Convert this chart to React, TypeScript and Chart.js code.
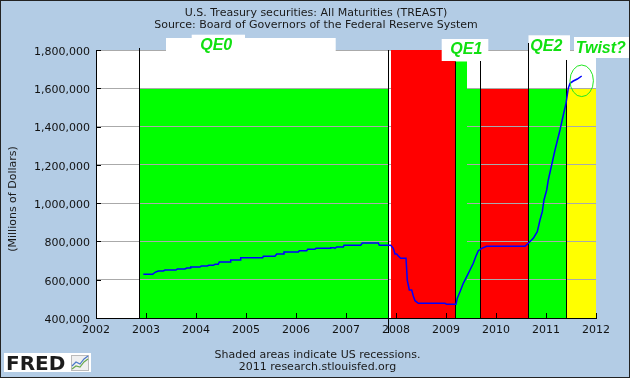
import React, { useEffect, useRef } from 'react';
import { Chart, registerables } from 'chart.js';

Chart.register(...registerables);

// ---- series: U.S. Treasury securities held, millions of dollars
const lineYears = [
  2002.946, 2003.134, 2003.18, 2003.246, 2003.346, 2003.38, 2003.6, 2003.626, 2003.78, 2003.814,
  2003.88, 2003.894, 2004.08, 2004.106, 2004.226, 2004.254, 2004.346, 2004.38, 2004.446, 2004.466,
  2004.68, 2004.694, 2004.88, 2004.894, 2005.334, 2005.346, 2005.58, 2005.614, 2005.746, 2005.76,
  2006.046, 2006.066, 2006.214, 2006.234, 2006.38, 2006.4, 2006.68, 2006.694, 2006.76, 2006.78,
  2006.814, 2006.946, 2006.96, 2007.294, 2007.326, 2007.646, 2007.666, 2007.894, 2007.946, 2007.98,
  2008.014, 2008.046, 2008.094, 2008.18, 2008.2, 2008.226, 2008.266, 2008.314, 2008.346, 2008.38,
  2008.446, 2008.98, 2009.014, 2009.2, 2009.226, 2009.28, 2009.346, 2009.414, 2009.48, 2009.546,
  2009.594, 2009.646, 2009.714, 2009.814, 2010.58, 2010.646, 2010.746, 2010.826, 2010.88, 2010.926,
  2010.96, 2011.014, 2011.046, 2011.18, 2011.28, 2011.346, 2011.4, 2011.446, 2011.48, 2011.546,
  2011.626, 2011.714,
];
const lineValues = [
  628300, 628300, 638700, 645500, 645500, 650800, 650800, 656000, 656000, 661200,
  661200, 666400, 666400, 671600, 671600, 675300, 675300, 680500, 680500, 692500,
  692500, 703000, 703000, 715000, 715000, 722300, 722300, 734300, 734300, 744800,
  744800, 751600, 751600, 758900, 758900, 764100, 764100, 767300, 767300, 764100,
  770900, 770900, 779800, 779800, 791800, 791800, 779800, 779800, 764100, 734300,
  734300, 723900, 711900, 711900, 711900, 597000, 546300, 546300, 514900, 490400,
  476800, 476800, 471600, 471600, 502900, 537400, 581300, 615800, 650800, 685800,
  720200, 751600, 764100, 774600, 774600, 790200, 816400, 850800, 911900, 955200,
  1016400, 1068700, 1120900, 1277600, 1382100, 1460500, 1521600, 1599900, 1626000, 1638000,
  1648500, 1664200,
];

// ---- axes
const xTickYears = [2002, 2003, 2004, 2005, 2006, 2007, 2008, 2009, 2010, 2011, 2012];
const xTickLabels = ['2002', '2003', '2004', '2005', '2006', '2007', '2008', '2009', '2010', '2011', '2012'];
const yTickValues = [400000, 600000, 800000, 1000000, 1200000, 1400000, 1600000, 1800000];

// ---- painted shading (years, value of top edge)
const shadeStarts = [2002.87, 2007.9, 2009.19, 2009.19, 2009.69, 2010.65, 2011.41];
const shadeEnds = [2007.85, 2009.19, 2009.69, 2009.42, 2010.65, 2011.41, 2012];
const shadeTops = [1600000, 1800000, 1600000, 1740000, 1600000, 1600000, 1600000];
const shadeKinds = ['green', 'red', 'green', 'green', 'red', 'green', 'yellow'];
const shadeOverGrid = [false, true, false, true, false, false, false];

// ---- label backgrounds (years, values)
const boxStarts = [2003.4, 2003.914, 2008.914, 2010.65, 2011.56];
const boxEnds = [2006.794, 2004.98, 2009.846, 2011.48, 2012.68];
const boxTops = [1862700, 1879900, 1857500, 1876800, 1867900];
const boxBottoms = [1794800, 1794800, 1742500, 1794800, 1758200];

// ---- vertical markers
const markerYears = [2002.87, 2007.85, 2009.19, 2009.69, 2010.65, 2011.41];
const markerTops = [1810500, 1800000, 1740000, 1742500, 1836600, 1747800];
const markerBottoms = [400000, 321600, 400000, 400000, 400000, 400000];

// ---- annotation labels
const labelTexts = ['QE0', 'QE1', 'QE2', 'Twist?'];
const labelYears = [2004.404, 2009.406, 2011.006, 2012.096];
const labelValues = [1801600, 1779100, 1796300, 1784300];

// ---- circled end
const ellipseYear = 2011.714;
const ellipseValue = 1639100;
const ellipseHalfYears = 0.234;
const ellipseHalfValue = 82500;

const FRAME_BG = '#b3cce5';
const SHADE_COLORS: Record<string, string> = { green: '#00ff00', red: '#ff0000', yellow: '#ffff00' };
const FONT = '"DejaVu Sans", Verdana, sans-serif';

function drawShades(chart: any, over: boolean) {
  const { ctx, scales } = chart;
  const x = scales.x, y = scales.y;
  ctx.save();
  for (let i = 0; i < shadeStarts.length; i++) {
    if (shadeOverGrid[i] !== over) continue;
    const x0 = x.getPixelForValue(shadeStarts[i]);
    const x1 = x.getPixelForValue(shadeEnds[i]);
    const y0 = y.getPixelForValue(shadeTops[i]);
    const y1 = y.getPixelForValue(400000);
    ctx.fillStyle = SHADE_COLORS[shadeKinds[i]];
    ctx.fillRect(x0, y0, x1 - x0, y1 - y0);
  }
  ctx.restore();
}

const decorPlugin = {
  id: 'decor',
  beforeDraw(chart: any) {
    const { ctx, chartArea: a } = chart;
    ctx.save();
    ctx.fillStyle = FRAME_BG;
    ctx.fillRect(0, 0, chart.width, chart.height);
    ctx.fillStyle = '#ffffff';
    ctx.fillRect(a.left, a.top, a.right - a.left, a.bottom - a.top);
    ctx.restore();
    drawShades(chart, false);
  },
  beforeDatasetsDraw(chart: any) {
    const { ctx, scales } = chart;
    const x = scales.x, y = scales.y;
    drawShades(chart, true);
    ctx.save();
    // label backgrounds
    ctx.fillStyle = '#ffffff';
    for (let i = 0; i < boxStarts.length; i++) {
      const x0 = x.getPixelForValue(boxStarts[i]);
      const x1 = x.getPixelForValue(boxEnds[i]);
      const y0 = y.getPixelForValue(boxTops[i]);
      const y1 = y.getPixelForValue(boxBottoms[i]);
      ctx.fillRect(x0, y0, x1 - x0, y1 - y0);
    }
    // vertical markers
    ctx.strokeStyle = '#000000';
    ctx.lineWidth = 1;
    for (let i = 0; i < markerYears.length; i++) {
      const px = Math.floor(x.getPixelForValue(markerYears[i])) + 0.5;
      ctx.beginPath();
      ctx.moveTo(px, y.getPixelForValue(markerTops[i]));
      ctx.lineTo(px, y.getPixelForValue(markerBottoms[i]));
      ctx.stroke();
    }
    // inside tick marks
    const bottom = Math.round(y.getPixelForValue(400000));
    for (const v of xTickYears) {
      const px = Math.floor(x.getPixelForValue(v)) + 0.5;
      ctx.beginPath();
      ctx.moveTo(px, bottom);
      ctx.lineTo(px, bottom - 5);
      ctx.stroke();
    }
    const left = Math.round(x.getPixelForValue(2002));
    for (const v of yTickValues) {
      const py = Math.round(y.getPixelForValue(v)) + 0.5;
      ctx.beginPath();
      ctx.moveTo(left, py);
      ctx.lineTo(left + 5, py);
      ctx.stroke();
    }
    ctx.restore();
  },
  afterDraw(chart: any) {
    const { ctx, scales } = chart;
    const x = scales.x, y = scales.y;
    ctx.save();
    // annotations
    ctx.fillStyle = '#11e011';
    ctx.font = 'italic bold 16px "Liberation Sans", Arial, sans-serif';
    ctx.textAlign = 'center';
    ctx.textBaseline = 'alphabetic';
    for (let i = 0; i < labelTexts.length; i++) {
      ctx.fillText(labelTexts[i], x.getPixelForValue(labelYears[i]), y.getPixelForValue(labelValues[i]));
    }
    // ellipse
    const cx = x.getPixelForValue(ellipseYear);
    const cy = y.getPixelForValue(ellipseValue);
    const rx = Math.abs(x.getPixelForValue(ellipseYear + ellipseHalfYears) - cx);
    const ry = Math.abs(y.getPixelForValue(ellipseValue + ellipseHalfValue) - cy);
    ctx.strokeStyle = '#22e622';
    ctx.lineWidth = 1;
    ctx.beginPath();
    ctx.ellipse(cx, cy, rx, ry, 0, 0, Math.PI * 2);
    ctx.stroke();

    // titles
    ctx.fillStyle = '#1a1a1a';
    ctx.font = '11px ' + FONT;
    ctx.textAlign = 'center';
    ctx.textBaseline = 'middle';
    ctx.fillText('U.S. Treasury securities: All Maturities (TREAST)', 316, 13.5);
    ctx.fillText('Source: Board of Governors of the Federal Reserve System', 316, 25.5);
    ctx.fillText('Shaded areas indicate US recessions.', 317.5, 355);
    ctx.fillText('2011 research.stlouisfed.org', 317.5, 367);

    ctx.save();
    ctx.translate(13.5, 199);
    ctx.rotate(-Math.PI / 2);
    ctx.fillText('(Millions of Dollars)', 0, 0);
    ctx.restore();

    // FRED logo
    ctx.fillStyle = '#ffffff';
    ctx.fillRect(4, 353, 87, 19);
    ctx.fillStyle = '#1c1c1c';
    ctx.font = 'bold 20px ' + FONT;
    ctx.textAlign = 'left';
    ctx.textBaseline = 'alphabetic';
    ctx.fillText('FRED', 6, 370);
    ctx.fillStyle = '#f0f0f0';
    ctx.fillRect(71, 355, 18, 16);
    ctx.strokeStyle = '#bbbbbb';
    ctx.strokeRect(71.5, 355.5, 17, 15);
    ctx.lineWidth = 1.2;
    ctx.strokeStyle = '#6aa84f';
    ctx.beginPath();
    ctx.moveTo(72, 369); ctx.lineTo(76, 366); ctx.lineTo(80, 367); ctx.lineTo(84, 362); ctx.lineTo(88, 359);
    ctx.stroke();
    ctx.strokeStyle = '#4a78c8';
    ctx.beginPath();
    ctx.moveTo(72, 366); ctx.lineTo(76, 362); ctx.lineTo(80, 364); ctx.lineTo(84, 359); ctx.lineTo(88, 356);
    ctx.stroke();

    // outer border
    ctx.strokeStyle = '#222222';
    ctx.lineWidth = 1;
    ctx.strokeRect(0.5, 0.5, chart.width - 1, chart.height - 1);
    ctx.restore();
  },
};

export default function App() {
  const canvasRef = useRef<HTMLCanvasElement | null>(null);

  useEffect(() => {
    const canvas = canvasRef.current;
    if (!canvas) return;
    const chart = new Chart(canvas, {
      type: 'line',
      data: {
        datasets: [
          {
            label: 'TREAST',
            data: lineYears.map((yr, i) => ({ x: yr, y: lineValues[i] })),
            borderColor: '#0000ff',
            borderWidth: 1.5,
            pointRadius: 0,
            tension: 0,
            fill: false,
          },
        ],
      },
      options: {
        animation: false,
        responsive: false,
        devicePixelRatio: 1,
        layout: { padding: { left: 0, right: 34, top: 50, bottom: 0 } },
        plugins: {
          legend: { display: false },
          title: { display: false },
          tooltip: { enabled: false },
        },
        scales: {
          x: {
            type: 'linear',
            min: 2002,
            max: 2012,
            afterBuildTicks: (s: any) => {
              s.ticks = xTickYears.map((v) => ({ value: v }));
            },
            afterFit: (s: any) => {
              s.height = 60;
              s.paddingLeft = 0;
              s.paddingRight = 0;
            },
            ticks: {
              autoSkip: false,
              maxRotation: 0,
              padding: 6,
              color: '#111111',
              font: { family: FONT, size: 11 },
              callback: (v: any) => {
                const i = xTickYears.indexOf(Number(v));
                return i >= 0 ? xTickLabels[i] : '';
              },
            },
            grid: { display: false, drawTicks: false },
            border: { display: true, color: '#000000', width: 1 },
          },
          y: {
            type: 'linear',
            min: 400000,
            max: 1800000,
            afterBuildTicks: (s: any) => {
              s.ticks = yTickValues.map((v) => ({ value: v }));
            },
            afterFit: (s: any) => {
              s.width = 96;
              s.paddingTop = 0;
              s.paddingBottom = 0;
            },
            ticks: {
              padding: 6,
              labelOffset: 2,
              color: '#111111',
              font: { family: FONT, size: 11 },
              callback: (v: any) => Number(v).toLocaleString('en-US'),
            },
            grid: { color: '#aaaaaa', lineWidth: 1, drawTicks: false },
            border: { display: true, color: '#000000', width: 1 },
          },
        },
      },
      plugins: [decorPlugin],
    });
    return () => chart.destroy();
  }, []);

  return (
    <div style={{ position: 'absolute', left: 0, top: 0, width: 630, height: 378 }}>
      <canvas ref={canvasRef} width={630} height={378} style={{ display: 'block', width: 630, height: 378 }} />
    </div>
  );
}
